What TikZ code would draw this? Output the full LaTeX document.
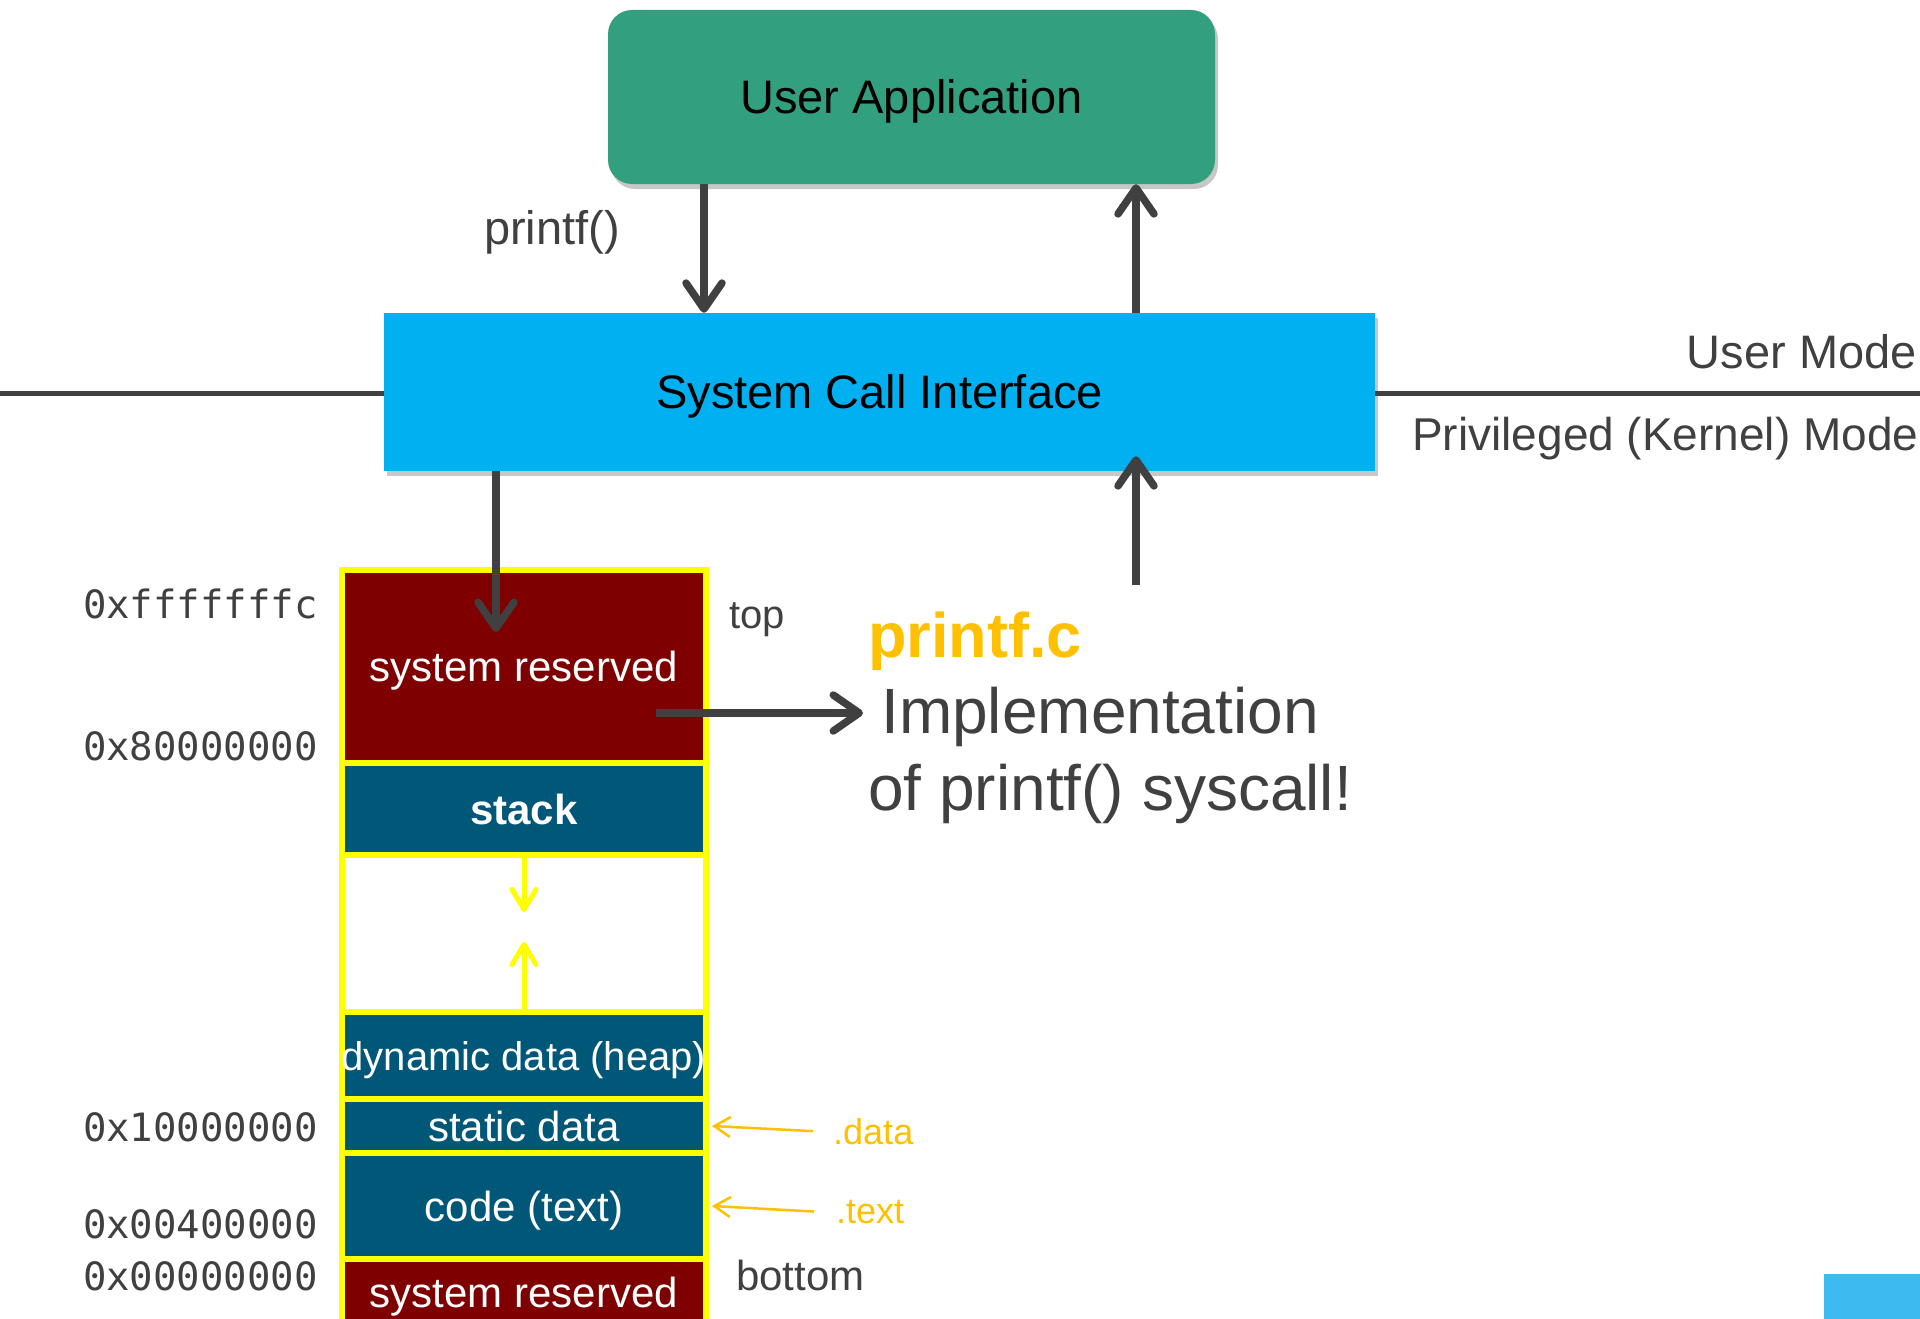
\documentclass[tikz,border=0pt]{standalone}
\usepackage{fontspec}
\setmainfont{Liberation Sans}
\newfontfamily\codefont{DejaVu Sans Mono}
\usetikzlibrary{arrows.meta,shadows}

\definecolor{appgreen}{RGB}{50,160,126}
\definecolor{scblue}{RGB}{0,176,240}
\definecolor{txtgray}{RGB}{64,64,64}
\definecolor{resred}{RGB}{127,0,0}
\definecolor{segblue}{RGB}{0,87,120}
\definecolor{gold}{RGB}{255,192,0}
\definecolor{markyellow}{RGB}{255,255,0}
\definecolor{cornerblue}{RGB}{59,187,240}

\newcommand\pxsize[1]{\fontsize{#1}{#1}\selectfont}

\begin{document}
\begin{tikzpicture}[x=1pt,y=-1pt,
  boxshadow/.style={drop shadow={shadow xshift=3pt,shadow yshift=-5pt,opacity=0.22,fill=black}},
  darrow/.style={draw=txtgray,line width=7.5pt,-{Straight Barb[length=26pt,width=36pt,round]}},
  yarrow/.style={draw=markyellow,line width=5pt,-{Straight Barb[length=20pt,width=24pt,round]}},
  oarrow/.style={draw=gold,line width=2.5pt,-{Straight Barb[length=16pt,width=20pt]}},
  seg/.style={draw=markyellow,line width=6pt,minimum width=364pt,inner sep=0pt,
    text=white,font=\pxsize{42},text height=30pt,text depth=0pt},
  lbl/.style={inner sep=0pt,text=txtgray,anchor=base west},
  addr/.style={inner sep=0pt,text=txtgray,anchor=base east,font=\codefont\pxsize{39}}]

\useasboundingbox (0,0) rectangle (1920,1319);

% user / kernel boundary
\coordinate (lineL) at (0,393);
\coordinate (lineR) at (1920,393);

% top boxes
\node[boxshadow,fill=appgreen,rounded corners=24pt,minimum width=607pt,minimum height=174pt,
  inner sep=0pt,font=\pxsize{47},text height=33pt,text depth=0pt] (app) at (911.5,97) {User Application};
\node[boxshadow,fill=scblue,minimum width=991pt,minimum height=158pt,
  inner sep=0pt,font=\pxsize{47},text height=33pt,text depth=0pt] (sci) at (879.5,392) {System Call Interface};

\draw[txtgray,line width=5pt] (lineL) -- (lineL -| sci.west);
\draw[txtgray,line width=5pt] (sci.east |- lineR) -- (lineR);

\node[lbl,anchor=base east,font=\pxsize{47}] (umode) at (1917,368) {User Mode};
\node[lbl,font=\pxsize{46}] (kmode) at (1412,450) {Privileged (Kernel) Mode};
\node[lbl,font=\pxsize{47}] (callname) at (484,244) {printf()};

% call and return between application and interface
\coordinate (callx) at (704,0);
\coordinate (retx) at (1136,0);
\draw[darrow] (callx |- app.south) -- (callx |- sci.north);
\draw[darrow] (retx |- sci.north) -- (retx |- app.south);

% memory layout column
\node[seg,fill=resred,minimum height=193pt] (sysres1) at (524,666.5) {system reserved};
\node[seg,fill=segblue,minimum height=92pt,font=\bfseries\pxsize{42}] (stack) at (524,809) {stack};
\node[seg,fill=white,minimum height=157pt] (gap) at (524,933.5) {};
\node[seg,fill=segblue,minimum height=87pt,font=\pxsize{40}] (heap) at (524,1055.5) {dynamic data (heap)};
\node[seg,fill=segblue,minimum height=54pt] (static) at (524,1126) {static data};
\node[seg,fill=segblue,minimum height=106pt] (code) at (524,1206) {code (text)};
\node[seg,fill=resred,minimum height=66pt] (sysres0) at (524,1292) {system reserved};

% growth of stack and heap
\coordinate (stacktip) at (524,912);
\coordinate (heaptip) at (524,942);
\draw[yarrow] (stack.south) -- (stacktip);
\draw[yarrow] (heap.north) -- (heaptip);

% addresses
\node[addr] (a1) at (318,618) {0xfffffffc};
\node[addr] (a2) at (318,760) {0x80000000};
\node[addr] (a3) at (318,1141) {0x10000000};
\node[addr] (a4) at (318,1238) {0x00400000};
\node[addr] (a5) at (318,1290) {0x00000000};

\node[lbl,font=\pxsize{40}] (toplbl) at (729,628) {top};
\node[lbl,font=\pxsize{42}] (botlbl) at (736,1290) {bottom};

% sections
\node[lbl,text=gold,font=\pxsize{36}] (datalbl) at (833,1144) {.data};
\node[lbl,text=gold,font=\pxsize{36}] (textlbl) at (836,1223) {.text};
\draw[oarrow] ([xshift=-20pt]datalbl.west) -- ([xshift=3pt]static.east);
\draw[oarrow] ([xshift=-22pt]textlbl.west) -- ([xshift=3pt]code.east);

% trap into the kernel and back
\coordinate (trapx) at (496,632);
\draw[darrow] (sci.south -| trapx) -- (trapx);
\coordinate (kret) at (1136,585);
\draw[darrow] (kret) -- ([yshift=15pt]retx |- sci.south);

% implementation note
\node[lbl,text=gold,font=\bfseries\pxsize{63}] (implfile) at (868,657) {printf.c};
\node[lbl,font=\pxsize{64}] (impl1) at (881,733) {Implementation};
\node[lbl,font=\pxsize{64}] (impl2) at (868,810) {of printf() syscall!};
\coordinate (ptrstart) at (656,713);
\coordinate (ptrtip) at (863,713);
\draw[darrow] (ptrstart) -- (ptrtip);

% corner tab
\fill[cornerblue] (1824,1274) rectangle (1920,1319);
\end{tikzpicture}
\end{document}
